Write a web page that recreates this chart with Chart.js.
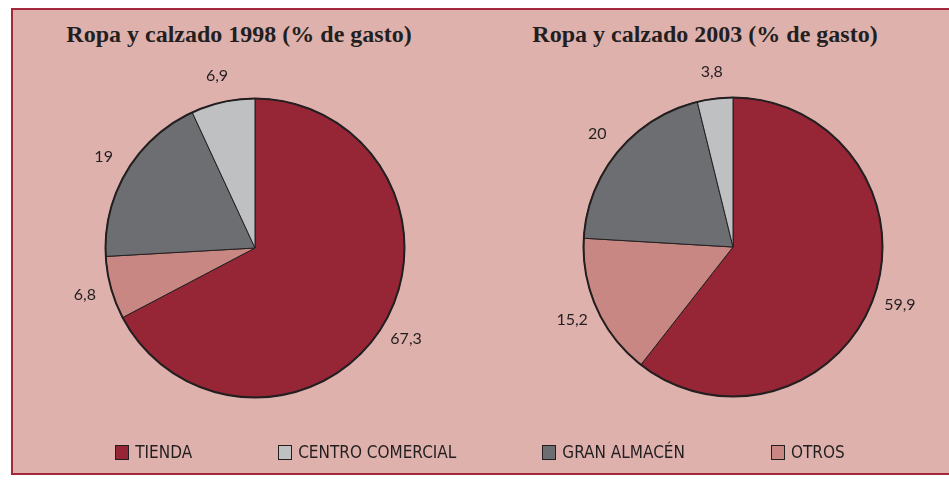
<!DOCTYPE html>
<html>
<head>
<meta charset="utf-8">
<script src="https://cdn.jsdelivr.net/npm/chart.js@4"></script>
<style>
  body { margin: 0; width: 949px; height: 484px; background: #fff; overflow: hidden; position: relative; }
  #panel { position: absolute; left: 11px; top: 8px; width: 960px; height: 463px; background: #dfb1ad; border: 2px solid #a3283b; }
  .title { position: absolute; width: 440px; text-align: center; font: bold 24px "Liberation Serif", serif; line-height: 24px; color: #231f20; top: 22px; }
  canvas { position: absolute; }
  #legend { position: absolute; left: 0; top: 442px; width: 960px; display: flex; justify-content: center; gap: 86px; }
  .item { display: flex; align-items: center; font: 17px "Liberation Sans Narrow", "DejaVu Sans Condensed", sans-serif; color: #231f20; }
  .box { width: 14px; height: 15px; box-sizing: border-box; border: 1px solid #231f20; margin-right: 6px; }
</style>
</head>
<body>
<div id="panel"></div>
<div class="title" style="left:19px">Ropa y calzado 1998 (% de gasto)</div>
<div class="title" style="left:485px">Ropa y calzado 2003 (% de gasto)</div>
<canvas id="pie1998" width="400" height="400" style="left:55px;top:48px"></canvas>
<canvas id="pie2003" width="400" height="400" style="left:533px;top:47px"></canvas>
<div id="legend"></div>

<script>
// slices in drawing order (clockwise from the top)
const sliceLabels = ['TIENDA', 'OTROS', 'GRAN ALMACÉN', 'CENTRO COMERCIAL'];
const values1998 = [67.3, 6.8, 19, 6.9];
const values2003 = [59.9, 15.2, 20, 3.8];
const legendOrder = ['TIENDA', 'CENTRO COMERCIAL', 'GRAN ALMACÉN', 'OTROS'];

const colors = {
  'TIENDA': '#962536',
  'CENTRO COMERCIAL': '#bfc0c2',
  'GRAN ALMACÉN': '#6d6e71',
  'OTROS': '#c98783'
};

// value labels outside each slice + darker outline
const pieLabels = {
  id: 'pieLabels',
  afterDatasetsDraw(chart) {
    const ctx = chart.ctx;
    const meta = chart.getDatasetMeta(0);
    const values = chart.data.datasets[0].data;
    ctx.save();
    const a0 = meta.data[0];
    ctx.beginPath();
    ctx.arc(a0.x, a0.y, a0.outerRadius, 0, Math.PI * 2);
    ctx.lineWidth = 2;
    ctx.strokeStyle = '#231f20';
    ctx.stroke();

    ctx.font = '16px Lato, "Noto Sans", sans-serif';
    ctx.fillStyle = '#231f20';
    ctx.textAlign = 'center';
    ctx.textBaseline = 'middle';
    meta.data.forEach(function(arc, i) {
      const mid = (arc.startAngle + arc.endAngle) / 2;
      const r = arc.outerRadius + 27;
      ctx.fillText(String(values[i]).replace('.', ','), arc.x + Math.cos(mid) * r, arc.y + Math.sin(mid) * r);
    });
    ctx.restore();
  }
};

function makePie(id, values) {
  return new Chart(document.getElementById(id), {
    type: 'pie',
    data: {
      labels: sliceLabels,
      datasets: [{
        data: values,
        backgroundColor: sliceLabels.map(l => colors[l]),
        borderColor: '#231f20',
        borderWidth: 1
      }]
    },
    options: {
      responsive: false,
      animation: false,
      layout: { padding: { top: 50, bottom: 50 } },
      plugins: {
        legend: { display: false },
        tooltip: { enabled: false }
      }
    },
    plugins: [pieLabels]
  });
}

makePie('pie1998', values1998);
makePie('pie2003', values2003);

const legend = document.getElementById('legend');
legendOrder.forEach(function(name) {
  const item = document.createElement('div');
  item.className = 'item';
  const box = document.createElement('span');
  box.className = 'box';
  box.style.background = colors[name];
  item.appendChild(box);
  item.appendChild(document.createTextNode(name));
  legend.appendChild(item);
});
</script>
</body>
</html>
